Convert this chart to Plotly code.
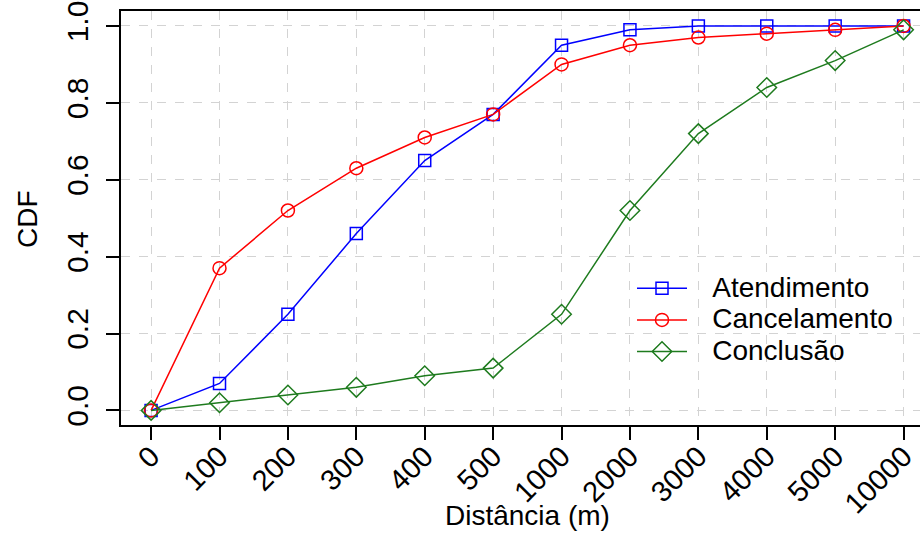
import plotly.graph_objects as go

categories = ["0", "100", "200", "300", "400", "500", "1000", "2000", "3000", "4000", "5000", "10000"]
atendimento = [0.0, 0.07, 0.25, 0.46, 0.65, 0.77, 0.95, 0.99, 1.0, 1.0, 1.0, 1.0]
cancelamento = [0.0, 0.37, 0.52, 0.63, 0.71, 0.77, 0.90, 0.95, 0.97, 0.98, 0.99, 1.0]
conclusao = [0.0, 0.02, 0.04, 0.06, 0.09, 0.11, 0.25, 0.52, 0.72, 0.84, 0.91, 0.99]
y_ticks = [0.0, 0.2, 0.4, 0.6, 0.8, 1.0]
series_names = ["Atendimento", "Cancelamento", "Conclusão"]

FONT = "Liberation Sans, Arial, sans-serif"
FS = 28
TFS = 30
XTFS = 29
xs = list(range(len(categories)))

styles = [
    ("#0000FF", "square-open", 12),
    ("#FF0000", "circle-open", 13),
    ("#1E7B1E", "diamond-open", 15),
]

fig = go.Figure()
for name, vals, (col, sym, sz) in zip(series_names, [atendimento, cancelamento, conclusao], styles):
    fig.add_trace(go.Scatter(
        x=xs, y=vals,
        name=f"<span style='font-size:{FS}px'>\u00a0\u00a0\u2006{name}</span>",
        mode="lines+markers",
        line=dict(color=col, width=1.5),
        marker=dict(symbol=sym, size=sz, color=col, line=dict(color=col, width=1.5)),
    ))

fig.update_layout(
    width=920, height=534,
    margin=dict(l=121, r=0, t=11, b=109),
    paper_bgcolor="white", plot_bgcolor="white",
    font=dict(family=FONT, size=FS, color="black"),
    showlegend=True,
    legend=dict(x=(632-121)/799, y=(425-320)/414, xanchor="left", yanchor="middle",
                bgcolor="rgba(0,0,0,0)", font=dict(size=22), itemwidth=50,
                tracegroupgap=0),
    xaxis=dict(
        range=[-0.44, 11.24], tickmode="array", tickvals=xs, ticktext=categories,
        tickangle=-45, ticks="outside", ticklen=13, tickwidth=1.5, tickcolor="black",
        showline=True, linecolor="black", linewidth=1.5, mirror=True,
        showgrid=True, gridcolor="#D3D3D3", griddash="dash", gridwidth=1,
        zeroline=False, tickfont=dict(size=XTFS), automargin=False,
        ticklabelstandoff=-12,
    ),
    yaxis=dict(
        range=[-0.038, 1.039], tickmode="array", tickvals=y_ticks,
        ticktext=[f"{v:.1f}" for v in y_ticks],
        tickangle=-90, ticks="outside", ticklen=13, tickwidth=1.5, tickcolor="black",
        showline=True, linecolor="black", linewidth=1.5, mirror=False,
        showgrid=True, gridcolor="#D3D3D3", griddash="dash", gridwidth=1,
        zeroline=False, tickfont=dict(size=TFS), automargin=False,
        ticklabelstandoff=6,
    ),
    annotations=[
        dict(text="Distância (m)", xref="paper", yref="paper", x=(527-121)/799, y=-(515-425)/414,
             xanchor="center", yanchor="middle", showarrow=False, font=dict(size=FS)),
        dict(text="CDF", xref="paper", yref="paper", x=-(121-27)/799, y=(425-219)/414,
             xanchor="center", yanchor="middle", textangle=-90, showarrow=False, font=dict(size=FS)),
    ],
)

fig.write_html("out.html", config={"displayModeBar": False},
               post_script="document.body.style.margin='0';document.body.style.overflow='hidden';")
